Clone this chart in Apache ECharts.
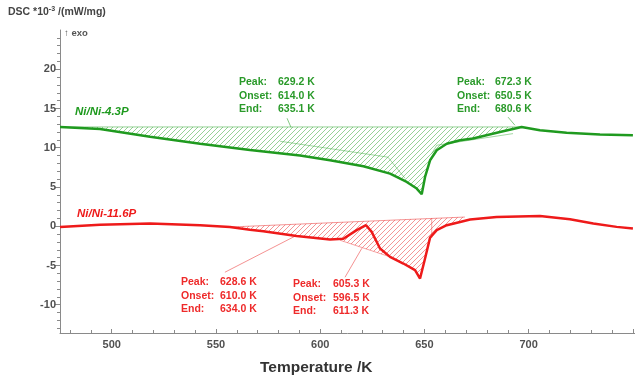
<!DOCTYPE html>
<html><head><meta charset="utf-8">
<script src="https://cdn.jsdelivr.net/npm/echarts@6/dist/echarts.min.js"></script>
<style>html,body{margin:0;padding:0;background:#fff}#c{width:635px;height:382px}</style>
</head><body><div id="c"></div>
<script>
// ---- data (temperature K, DSC *10^-3 mW/mg) ----
const greenT = [475.2,494.4,518.4,542.4,566.3,590.3,604.7,620.7,633.5,641.5,646.3,648.7,650.3,652.7,655.9,660.7,667.1,673.3,686.2,696.6,705.4,718.2,734.2,750.0];
const greenY = [12.65,12.4,11.4,10.5,9.7,9.0,8.4,7.64,6.7,5.64,4.8,4.08,6.28,8.4,9.68,10.5,10.96,11.17,12.0,12.65,12.23,11.9,11.7,11.6];
const redT = [475.2,494.4,518.4,542.4,556.7,566.3,572.7,588.7,604.7,611.1,617.5,622.0,624.7,628.7,633.5,639.9,645.5,647.9,650.3,652.7,655.9,660.7,667.1,671.9,684.6,705.4,719.8,731.0,742.2,750.0];
const redY = [-0.1,0.2,0.35,0.13,-0.1,-0.45,-0.64,-1.23,-1.7,-1.6,-0.5,0.13,-0.72,-2.84,-3.9,-4.75,-5.6,-6.66,-4.1,-1.45,-0.5,0.13,0.55,0.85,1.18,1.3,0.9,0.35,-0.08,-0.3];
// integration baselines / helper lines
const greenTopT = [475.2,696.6];   const greenTopY = [12.65,12.65];
const greenLineAT = [580.7,632.5,640.7]; const greenLineAY = [10.83,8.8,6.1];
const greenLineBT = [653.5,655.9,692.5]; const greenLineBY = [9.26,10.32,11.8];
const redTopT = [556.7,669.4];     const redTopY = [-0.1,1.17];
const redBaseT = [609.5,633.5];    const redBaseY = [-1.78,-3.9];
const redVertT = [653.5,653.5];    const redVertY = [1.02,-1.45];
const greenLead1T = [584.1,586.0]; const greenLead1Y = [13.76,12.6];
const greenLead2T = [690.1,693.4]; const greenLead2Y = [13.9,12.87];
const redLead1T = [554.3,587.9];   const redLead1Y = [-5.86,-1.27];
const redLead2T = [611.9,620.0];   const redLead2Y = [-6.5,-2.8];
// ticks
const xTickLabels = [500,550,600,650,700];
const xMajor = [500,550,600,650,700,750];
const xMinor = [480,490,510,520,530,540,560,570,580,590,610,620,630,640,660,670,680,690,710,720,730,740];
const yTickLabels = [-10,-5,0,5,10,15,20];
const yMinor = [-13,-12,-11,-9,-8,-7,-6,-4,-3,-2,-1,1,2,3,4,6,7,8,9,11,12,13,14,16,17,18,19,21,22,23,24];
// texts
const greenName = 'Ni/Ni-4.3P', redName = 'Ni/Ni-11.6P';
const annoKeys = ['Peak:','Onset:','End:'];
const greenAnno1 = ['629.2 K','614.0 K','635.1 K'];
const greenAnno2 = ['672.3 K','650.5 K','680.6 K'];
const redAnno1 = ['628.6 K','610.0 K','634.0 K'];
const redAnno2 = ['605.3 K','596.5 K','611.3 K'];

const GREEN = '#1f9a1f', RED = '#ee1a1a';
function hatch(color){
  const c = document.createElement('canvas'); c.width = 5; c.height = 5;
  const g = c.getContext('2d'); g.strokeStyle = color; g.lineWidth = 0.9;
  g.beginPath(); g.moveTo(0,5); g.lineTo(5,0); g.moveTo(-1,1); g.lineTo(1,-1); g.moveTo(4,6); g.lineTo(6,4); g.stroke();
  return c;
}
const gHatch = {image: hatch('rgba(60,170,60,0.6)'), repeat: 'repeat'};
const rHatch = {image: hatch('rgba(235,60,60,0.6)'), repeat: 'repeat'};

function pts(T, Y){ return T.map((t,i)=>[t,Y[i]]); }
function curveBetween(T, Y, a, b){ return pts(T,Y).filter(p=>p[0]>=a && p[0]<=b); }
// polygons
const greenPoly = pts(greenTopT, greenTopY).reverse().concat(curveBetween(greenT, greenY, 475.2, 696.6));
const redPoly = pts(redTopT, redTopY).concat(curveBetween(redT, redY, 556.7, 669.4).reverse());
const redBump = curveBetween(redT, redY, 609.5, 633.5).concat(pts(redBaseT, redBaseY).reverse());

function polySeries(poly, fill){
  return {type:'custom', coordinateSystem:'cartesian2d', silent:true, z:1, data:[0],
    renderItem:(params, api)=>({type:'polygon', shape:{points: poly.map(p=>api.coord(p))}, style:{fill: fill, stroke:'none'}})};
}
function thinLine(T, Y, color, w){
  return {type:'line', data: pts(T,Y), symbol:'none', silent:true, z:2, lineStyle:{color: color, width: w||0.8}};
}

const chart = echarts.init(document.getElementById('c'), null, {renderer:'canvas'});
const labelFont = {fontFamily:'Liberation Sans, Arial, sans-serif', fontWeight:'bold', fontSize:11, color:'#505050'};
function annoTexts(left, valLeft, top, vals, color){
  const out = [];
  for (let i=0;i<3;i++){
    out.push({type:'text', left:left, top: top + i*13.5, style:{text: annoKeys[i], fill: color, font:'bold 10.5px "Liberation Sans", Arial, sans-serif'}});
    out.push({type:'text', left:valLeft, top: top + i*13.5, style:{text: vals[i], fill: color, font:'bold 10.5px "Liberation Sans", Arial, sans-serif'}});
  }
  return out;
}

chart.setOption({
  animation:false,
  grid:{left:60, top:30, right:0, bottom:49},
  xAxis:[
    {type:'value', min:475.2, max:751, splitLine:{show:false},
     axisLine:{onZero:false, lineStyle:{color:'#8a8a8a', width:1}},
     axisTick:{inside:true, length:4, customValues:xMajor, lineStyle:{color:'#8a8a8a'}},
     axisLabel:Object.assign({customValues:xTickLabels, margin:6}, labelFont)},
    {type:'value', min:475.2, max:751, position:'bottom', splitLine:{show:false}, axisLine:{show:false, onZero:false},
     axisTick:{inside:true, length:3, customValues:xMinor, lineStyle:{color:'#8a8a8a'}},
     axisLabel:{show:false}}
  ],
  yAxis:[
    {type:'value', min:-13.6, max:25, splitLine:{show:false},
     axisLine:{show:true, onZero:false, lineStyle:{color:'#8a8a8a', width:1}},
     axisTick:{show:true, inside:false, length:5, customValues:yTickLabels, lineStyle:{color:'#8a8a8a'}},
     axisLabel:Object.assign({customValues:yTickLabels, margin:4}, labelFont)},
    {type:'value', min:-13.6, max:25, position:'left', splitLine:{show:false}, axisLine:{show:false, onZero:false},
     axisTick:{show:true, inside:false, length:3, customValues:yMinor, lineStyle:{color:'#8a8a8a'}},
     axisLabel:{show:false}}
  ],
  series:[
    polySeries(greenPoly, gHatch),
    polySeries(redPoly, rHatch),
    polySeries(redBump, rHatch),
    thinLine(greenTopT, greenTopY, 'rgba(60,170,60,0.6)', 0.9),
    thinLine(greenLineAT, greenLineAY, 'rgba(60,170,60,0.6)'),
    thinLine(greenLineBT, greenLineBY, 'rgba(60,170,60,0.6)'),
    thinLine(greenLead1T, greenLead1Y, 'rgba(60,170,60,0.8)'),
    thinLine(greenLead2T, greenLead2Y, 'rgba(60,170,60,0.8)'),
    thinLine(redTopT, redTopY, 'rgba(235,60,60,0.6)', 0.9),
    thinLine(redBaseT, redBaseY, 'rgba(235,60,60,0.6)'),
    thinLine(redVertT, redVertY, 'rgba(235,60,60,0.6)'),
    thinLine(redLead1T, redLead1Y, 'rgba(235,60,60,0.7)'),
    thinLine(redLead2T, redLead2Y, 'rgba(235,60,60,0.7)'),
    {type:'line', name:greenName, data:pts(greenT, greenY), symbol:'none', z:5, lineStyle:{color:GREEN, width:2.5}},
    {type:'line', name:redName, data:pts(redT, redY), symbol:'none', z:5, lineStyle:{color:RED, width:2.5}}
  ],
  graphic:[
    {type:'text', left:8, top:6, style:{rich:{a:{font:'bold 10.5px "Liberation Sans", Arial, sans-serif', fill:'#444'}, s:{font:'bold 7px "Liberation Sans", Arial, sans-serif', fill:'#444', verticalAlign:'top', padding:[0,0,5,0]}}, text:'{a|DSC *10}{s|-3}{a| /(mW/mg)}'}},
    {type:'text', left:64, top:28, style:{text:'↑ exo', font:'bold 9.5px "Liberation Sans", Arial, sans-serif', fill:'#555'}},
    {type:'text', left:75, top:106, style:{text:greenName, font:'italic bold 11.5px "Liberation Sans", Arial, sans-serif', fill:GREEN}},
    {type:'text', left:77, top:208, style:{text:redName, font:'italic bold 11.5px "Liberation Sans", Arial, sans-serif', fill:RED}},
    {type:'text', left:260, top:360, style:{text:'Temperature /K', font:'bold 15.5px "Liberation Sans", Arial, sans-serif', fill:'#333'}}
  ].concat(annoTexts(239,278,77,greenAnno1,'#2a9a2a'))
   .concat(annoTexts(457,495,77,greenAnno2,'#2a9a2a'))
   .concat(annoTexts(181,220,277,redAnno1,'#ee2a2a'))
   .concat(annoTexts(293,333,279,redAnno2,'#ee2a2a'))
});
</script></body></html>
